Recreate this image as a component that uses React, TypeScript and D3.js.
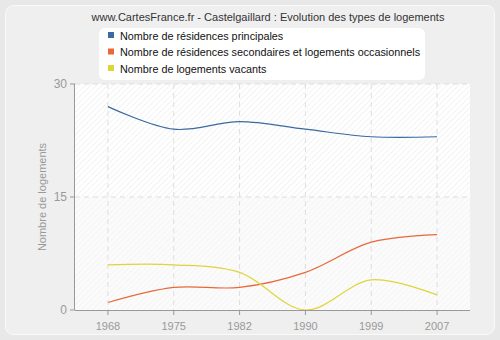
import React from "react";
import * as d3 from "d3";

const years = ["1968", "1975", "1982", "1990", "1999", "2007"];
const principales = [27, 24, 25, 24, 23, 23];
const secondaires = [1, 3, 3, 5, 9, 10];
const vacants = [6, 6, 5, 0, 4, 2];
const yTicks = [0, 15, 30];
const seriesNames = [
  "Nombre de résidences principales",
  "Nombre de résidences secondaires et logements occasionnels",
  "Nombre de logements vacants",
];
const colors = ["#3a6aa0", "#e8683a", "#e0d43a"];

const W = 500;
const H = 340;
const M = { left: 75, right: 470, top: 84, bottom: 310 };

export default function App() {
  const x = d3.scaleBand<string>().domain(years).range([M.left, M.right]);
  const cx = (d: string) => (x(d) as number) + x.bandwidth() / 2;
  const y = d3.scaleLinear().domain([0, 30]).range([M.bottom, M.top]);
  const line = d3
    .line<number>()
    .x((_, i) => cx(years[i]))
    .y((d) => y(d))
    .curve(d3.curveCatmullRom.alpha(0.5));
  const series = [principales, secondaires, vacants];
  const font = "Liberation Sans, Arial, sans-serif";

  return (
    <svg
      width={W}
      height={H}
      style={{ position: "absolute", left: 0, top: 0 }}
      fontFamily={font}
    >
      <defs>
        <pattern id="hatchTop" width="4" height="4" patternUnits="userSpaceOnUse" patternTransform="rotate(45)">
          <rect width="4" height="4" fill="#ffffff" />
          <line x1="0" y1="0" x2="0" y2="4" stroke="#ebebeb" strokeWidth="1.2" />
        </pattern>
        <pattern id="hatchBot" width="4" height="4" patternUnits="userSpaceOnUse" patternTransform="rotate(45)">
          <rect width="4" height="4" fill="#fbfbfb" />
          <line x1="0" y1="0" x2="0" y2="4" stroke="#f1f1f1" strokeWidth="1.2" />
        </pattern>
      </defs>
      <rect x={0} y={0} width={W} height={H} fill="#e8e8e8" />
      <rect x={5.5} y={5.5} width={489} height={329} rx={8} fill="#efefef" stroke="#fafafa" strokeWidth={1} />
      <text x={268} y={21} textAnchor="middle" fontSize={11} fill="#333">
        www.CartesFrance.fr - Castelgaillard : Evolution des types de logements
      </text>

      {/* plot background */}
      <rect x={M.left} y={y(30)} width={M.right - M.left} height={y(15) - y(30)} fill="url(#hatchTop)" />
      <rect x={M.left} y={y(15)} width={M.right - M.left} height={y(0) - y(15)} fill="url(#hatchBot)" />

      {/* grid */}
      {years.map((yr) => (
        <line key={yr} x1={cx(yr)} x2={cx(yr)} y1={M.top} y2={M.bottom} stroke="#dedede" strokeDasharray="5,4" />
      ))}
      {yTicks.filter((t) => t > 0).map((t) => (
        <line key={t} x1={M.left} x2={M.right} y1={y(t)} y2={y(t)} stroke="#dedede" strokeDasharray="5,4" />
      ))}

      {/* series */}
      {series.map((s, i) => (
        <path key={i} d={line(s) || ""} fill="none" stroke={colors[i]} strokeWidth={1.2} />
      ))}

      {/* axes */}
      <line x1={M.left - 0.5} x2={M.left - 0.5} y1={M.top} y2={M.bottom} stroke="#999" />
      <line x1={M.left} x2={M.right} y1={M.bottom + 0.5} y2={M.bottom + 0.5} stroke="#999" />
      {yTicks.map((t) => (
        <g key={t}>
          <line x1={M.left - 5} x2={M.left} y1={y(t)} y2={y(t)} stroke="#999" />
          <text x={M.left - 8} y={y(t) + 4} textAnchor="end" fontSize={12} fill="#999">
            {t}
          </text>
        </g>
      ))}
      {years.map((yr) => (
        <g key={yr}>
          <line x1={cx(yr)} x2={cx(yr)} y1={M.bottom} y2={M.bottom + 5} stroke="#999" />
          <text x={cx(yr)} y={M.bottom + 20} textAnchor="middle" fontSize={11} fill="#999">
            {yr}
          </text>
        </g>
      ))}
      <text
        transform={`translate(46,${(M.top + M.bottom) / 2}) rotate(-90)`}
        textAnchor="middle"
        fontSize={11}
        fill="#999"
      >
        Nombre de logements
      </text>

      {/* legend */}
      <rect x={99} y={28} width={326} height={52} rx={6} fill="#ffffff" />
      {seriesNames.map((n, i) => (
        <g key={n}>
          <rect x={108} y={32 + i * 16.5} width={6} height={6} fill={colors[i]} />
          <text x={120} y={39.5 + i * 16.5} fontSize={10.8} fill="#111">
            {n}
          </text>
        </g>
      ))}
    </svg>
  );
}
